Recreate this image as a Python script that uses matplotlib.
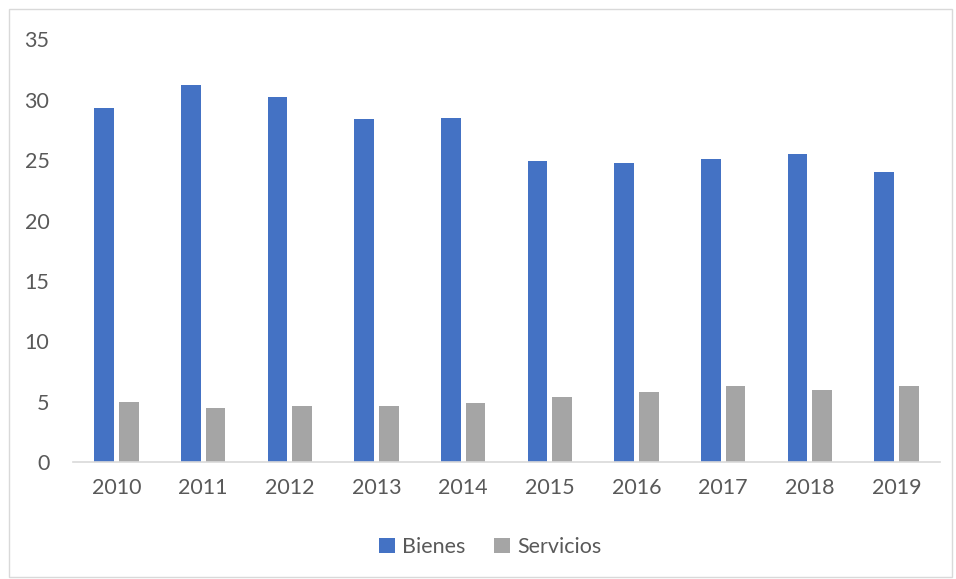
import numpy as np
import matplotlib.pyplot as plt
from matplotlib.patches import Rectangle

years = ['2010', '2011', '2012', '2013', '2014', '2015', '2016', '2017', '2018', '2019']
bienes = [29.35, 31.2, 30.25, 28.4, 28.5, 24.95, 24.75, 25.1, 25.5, 24.05]
servicios = [4.97, 4.5, 4.67, 4.67, 4.9, 5.4, 5.8, 6.3, 6.02, 6.3]

blue = '#4472C4'
gray = '#A5A5A5'
text_color = '#595959'

plt.rcParams['font.family'] = ['Lato', 'DejaVu Sans']

fig = plt.figure(figsize=(9.56, 5.79), dpi=100)
ax = fig.add_axes([73 / 956, 1 - 462.3 / 579, (940 - 73) / 956, (462.3 - 39.3) / 579])

x = np.arange(len(years))
w = 0.227
ax.bar(x - 0.142, bienes, width=w, color=blue, label='Bienes')
ax.bar(x + 0.142, servicios, width=w, color=gray, label='Servicios')

ax.set_xlim(-0.5, len(years) - 0.5)
ax.set_ylim(0, 35)
ax.set_yticks(np.arange(0, 36, 5))
ax.set_xticks(x)
ax.set_xticklabels(years)

for s in ['top', 'right', 'left']:
    ax.spines[s].set_visible(False)
ax.spines['bottom'].set_color('#D9D9D9')
ax.spines['bottom'].set_linewidth(1.2)
ax.tick_params(axis='both', length=0, labelsize=15.5, colors=text_color)
ax.tick_params(axis='y', pad=17)
ax.tick_params(axis='x', pad=11)

fig.legend(loc='center', bbox_to_anchor=(490 / 956, 1 - 547 / 579), ncol=2,
           frameon=False, fontsize=15.5, labelcolor=text_color,
           handlelength=0.75, handleheight=0.75, handletextpad=0.35, columnspacing=1.3)

# outer chart border
fig.patches.append(Rectangle((9 / 956, 2 / 579), 943 / 956, 568 / 579,
                             transform=fig.transFigure, fill=False,
                             edgecolor='#D9D9D9', linewidth=1))

fig.savefig('out.png', dpi=100)
